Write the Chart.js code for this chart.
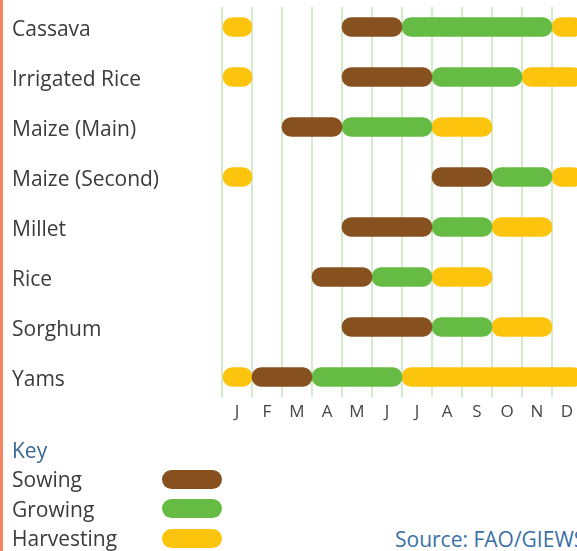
<!DOCTYPE html>
<html>
<head>
<meta charset="utf-8">
<script src="https://cdn.jsdelivr.net/npm/chart.js@4.4.1/dist/chart.umd.min.js"></script>
<style>
    body{ margin:0; background:#ffffff; }
    #wrap{ position:relative; width:577px; height:551px; overflow:hidden; font-family:"Open Sans", sans-serif; }
    #edge{ position:absolute; left:0; top:0; width:3px; height:551px; background:#f4865f; }
    #cropChart{ position:absolute; left:0; top:0; }
    .key-title{ position:absolute; left:12px; top:437px; font-size:21px; line-height:26px; color:#3a6794; }
    .key-label{ position:absolute; left:12px; font-size:21px; line-height:26px; color:#3b3b3b; }
    .key-swatch{ position:absolute; left:162px; width:60px; height:19px; border-radius:10px; }
    #source{ position:absolute; left:395px; top:526px; font-size:21px; line-height:26px; color:#3b70a6; white-space:nowrap; }
</style>
</head>
<body>
<div id="wrap">
    <canvas id="cropChart" width="577" height="440"></canvas>
    <div id="edge"></div>
    <div id="key"></div>
    <div id="source">Source: FAO/GIEWS</div>
</div>
<script>
//======================================================
// DATA
//======================================================

const crops = [
    "Cassava",
    "Irrigated Rice",
    "Maize (Main)",
    "Maize (Second)",
    "Millet",
    "Rice",
    "Sorghum",
    "Yams"
];

const months = ["J","F","M","A","M","J","J","A","S","O","N","D"];

// [start month, end month], 0 = start of January
const sowing = [[4,6],[4,7],[2,4],[7,9],[4,7],[3,5],[4,7],[1,3]];

const growing = [[6,11],[7,10],[4,7],[9,11],[7,9],[5,7],[7,9],[3,6]];

const harvesting = [
    [[0,1],[11,12]],
    [[0,1],[10,12]],
    [[7,9]],
    [[0,1],[11,12]],
    [[9,11]],
    [[7,9]],
    [[9,11]],
    [[0,1],[6,12]]
];

const stageNames = ["Sowing","Growing","Harvesting"];
const stageColors = ["#86501f","#66bb44","#fcc40c"];

//======================================================
// BUILD CHART
//======================================================

// chart area starts at x=222 and the picture is cut at x=577, 30px per month
const monthMax = (577 - 222) / 30;

function rowsOf(ranges){
    return ranges.map(function(r, i){ return { x:r, y:i }; });
}

function harvestRows(){
    const out = [];
    harvesting.forEach(function(list, i){
        list.forEach(function(r){ out.push({ x:r, y:i }); });
    });
    return out;
}

const stageData = [rowsOf(sowing), rowsOf(growing), harvestRows()];

const ctx = document.getElementById("cropChart").getContext("2d");

const cropChart = new Chart(ctx,{

    type:"bar",

    data:{
        datasets: stageNames.map(function(name, i){
            return {
                label:name,
                data:stageData[i],
                backgroundColor:stageColors[i],
                borderWidth:0,
                borderRadius:10,
                borderSkipped:false,
                barThickness:19,
                grouped:false
            };
        })
    },

    options:{
        indexAxis:"y",
        responsive:false,
        animation:false,
        layout:{ padding:{ left:12, top:7, right:0, bottom:0 } },
        plugins:{
            legend:{ display:false },
            tooltip:{ enabled:false }
        },
        scales:{
            x:{
                type:"linear",
                min:0,
                max:monthMax,
                z:1,
                afterBuildTicks:function(s){
                    s.ticks = months.map(function(m, i){ return { value:i }; });
                },
                grid:{ color:"rgba(110,190,80,0.3)", lineWidth:2, drawTicks:false },
                border:{ display:false },
                ticks:{ display:false }
            },
            xm:{
                type:"linear",
                position:"bottom",
                min:0,
                max:monthMax,
                afterBuildTicks:function(s){
                    s.ticks = months.map(function(m, i){ return { value:i + 0.5 }; });
                },
                afterFit:function(s){ s.height = 43; s.paddingLeft = 0; s.paddingRight = 0; },
                grid:{ display:false },
                border:{ display:false },
                ticks:{
                    autoSkip:false,
                    maxRotation:0,
                    padding:-3,
                    color:"#454545",
                    font:{ family:"Open Sans", size:17 },
                    callback:function(v, idx){ return months[idx]; }
                }
            },
            y:{
                type:"linear",
                reverse:true,
                offset:false,
                min:-0.4,
                max:7.4,
                // labels sit a few pixels below the bar centres
                afterBuildTicks:function(s){
                    s.ticks = crops.map(function(c, i){ return { value:i + 0.06 }; });
                },
                afterFit:function(s){ s.width = 210; s.paddingTop = 0; s.paddingBottom = 0; },
                grid:{ display:false },
                border:{ display:false },
                ticks:{
                    autoSkip:false,
                    crossAlign:"far",
                    color:"#3b3b3b",
                    font:{ family:"Open Sans", size:21 },
                    callback:function(v){ return crops[Math.round(v)]; }
                }
            }
        }
    }

});

//======================================================
// KEY
//======================================================

const key = document.getElementById("key");

const title = document.createElement("div");
title.className = "key-title";
title.textContent = "Key";
key.appendChild(title);

cropChart.data.datasets.forEach(function(ds, i){

    const centre = 479 + i * 29.5;

    const label = document.createElement("div");
    label.className = "key-label";
    label.style.top = (centre - 13) + "px";
    label.textContent = ds.label;
    key.appendChild(label);

    const sw = document.createElement("div");
    sw.className = "key-swatch";
    sw.style.top = (centre - 9.5) + "px";
    sw.style.background = ds.backgroundColor;
    key.appendChild(sw);

});
</script>
</body>
</html>
